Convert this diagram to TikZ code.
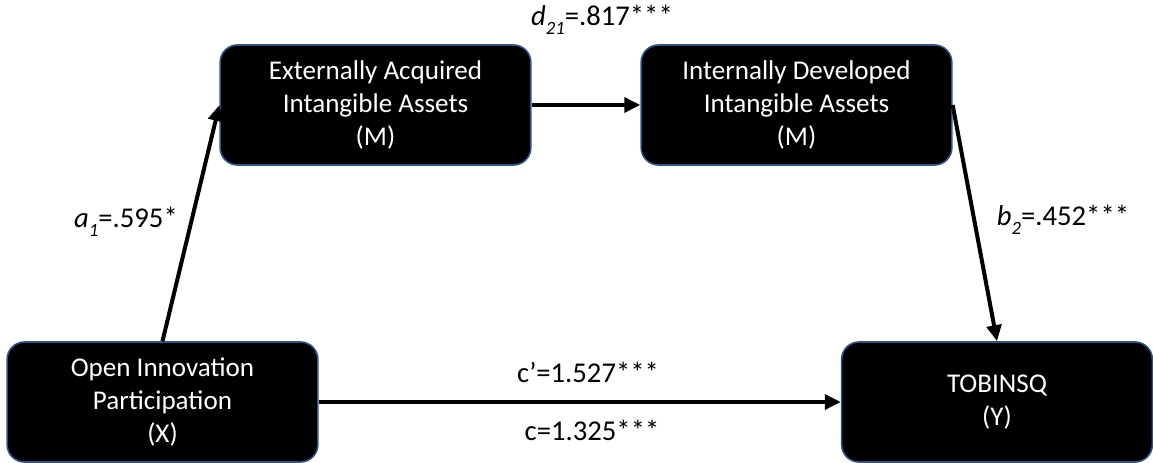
\documentclass[tikz,border=0pt]{standalone}
\usepackage{fontspec}
\setmainfont{Carlito}
\usetikzlibrary{arrows.meta}

\definecolor{boxborder}{RGB}{47,82,143}
\newcommand{\coefsub}[2]{\textit{#1}\raisebox{-0.3em}{\fontsize{14}{14}\selectfont\textit{#2}}}

\tikzset{every picture/.style={line width=0.75pt}}
\tikzset{
  varbox/.style={draw=boxborder, line width=1.2pt, fill=black, text=white,
    rounded corners=13pt, minimum width=233pt, minimum height=90pt,
    inner sep=0pt, align=center, font=\fontsize{20.3}{24.75}\selectfont},
  effect/.style={line width=3pt, -{Triangle[length=12pt,width=11pt]}},
  coef/.style={inner sep=0.75pt, font=\fontsize{21.5}{26}\selectfont}
}

\begin{document}
\begin{tikzpicture}[x=0.75pt,y=0.75pt,yscale=-1,xscale=1]
\useasboundingbox (0,0) rectangle (1153,463);

% Boxes
\node [varbox] (oip) at (162.5,402) {Open Innovation\\Participation\\(X)};
\node [varbox] (ext) at (375.5,105) {Externally Acquired\\Intangible Assets\\(M)};
\node [varbox] (int) at (796.5,105) {Internally Developed\\Intangible Assets\\(M)};
\node [varbox] (tob) at (997,402) {TOBINSQ\\(Y)};

% Paths
\draw [effect] (oip.north) -- (ext.west);
\draw [effect] (ext.east) -- (int.west);
\draw [effect] (int.east) -- (tob.north);
\draw [effect] (oip.east) -- (tob.west);

% Text Node
\node [coef] (d21) at (602,20) {\coefsub{d}{21}=.817***};
% Text Node
\node [coef] (a1) at (126,222) {\coefsub{a}{1}=.595*};
% Text Node
\node [coef] (b2) at (1063,220) {\coefsub{b}{2}=.452***};
% Text Node
\node [coef] (cprime) at (588,372) {c’=1.527***};
% Text Node
\node [coef] (ctotal) at (592,430) {c=1.325***};
\end{tikzpicture}
\end{document}
